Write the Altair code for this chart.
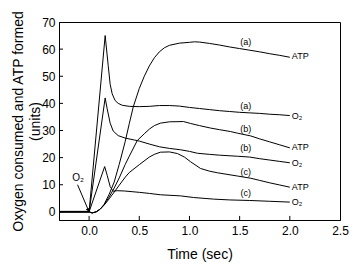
import altair as alt
import pandas as pd

FONT = "Arial, Liberation Sans, sans-serif"

# ---- data ----
base_t = [-0.3, 0.0]
base_v = [0, 0]

o2a_t = [0.0, 0.16, 0.19, 0.21, 0.23, 0.26, 0.29, 0.33, 0.4, 0.5, 0.6, 0.7, 0.8, 0.9, 1.0, 1.1, 1.2, 1.3, 1.4, 1.5, 1.6, 1.7, 1.8, 1.9, 2.0]
o2a_v = [0, 65, 54, 47, 43.5, 41, 40, 39.3, 38.9, 38.8, 38.9, 39.2, 39.2, 39.0, 38.5, 38.1, 37.7, 37.3, 37.0, 36.7, 36.5, 36.3, 36.0, 35.8, 35.5]

o2b_t = [0.0, 0.16, 0.18, 0.21, 0.24, 0.29, 0.36, 0.45, 0.5, 0.6, 0.7, 0.8, 0.91, 1.0, 1.08, 1.2, 1.3, 1.48, 1.6, 1.7, 1.8, 1.9, 2.0]
o2b_v = [0, 42, 38, 32.7, 29.8, 28.1, 27.2, 26.5, 26.1, 25.0, 24.0, 23.4, 22.9, 22.3, 21.6, 21.2, 20.9, 20.5, 20.2, 19.6, 19.1, 18.6, 18.1]

o2c_t = [0.0, 0.155, 0.18, 0.21, 0.24, 0.28, 0.35, 0.5, 0.6, 0.71, 0.91, 1.04, 1.24, 1.4, 1.6, 1.8, 2.0]
o2c_v = [0, 16.7, 13.5, 9.3, 7.6, 7.8, 7.7, 7.2, 6.8, 6.3, 5.9, 5.3, 4.7, 4.4, 4.2, 3.9, 3.6]

atpa_t = [0.0, 0.03, 0.07, 0.11, 0.15, 0.2, 0.25, 0.3, 0.36, 0.4, 0.44, 0.5, 0.55, 0.6, 0.65, 0.7, 0.75, 0.8, 0.9, 1.0, 1.05, 1.1, 1.2, 1.3, 1.4, 1.5, 1.6, 1.7, 1.8, 1.9, 2.0]
atpa_v = [0, -0.4, 0, 1, 2.8, 6.5, 11, 17.5, 26, 32.5, 38.7, 45.5, 50, 53.8, 56.8, 59, 60.5, 61.4, 62.2, 62.5, 62.7, 62.6, 62.1, 61.5, 60.8, 60.2, 59.6, 59.0, 58.3, 57.7, 57.0]

atpb_t = [0.0, 0.03, 0.07, 0.11, 0.15, 0.2, 0.25, 0.3, 0.36, 0.4, 0.48, 0.55, 0.6, 0.65, 0.71, 0.8, 0.94, 1.01, 1.1, 1.21, 1.3, 1.41, 1.48, 1.61, 1.7, 1.8, 1.9, 2.0]
atpb_v = [0, -0.4, 0, 1, 2.6, 5.5, 8.8, 12.5, 17.5, 20.5, 26.3, 28.8, 30.5, 31.8, 32.7, 33.2, 33.3, 32.6, 31.8, 30.9, 30.3, 29.6, 29.0, 28.0, 26.9, 25.8, 24.7, 23.6]

atpc_t = [0.0, 0.03, 0.07, 0.11, 0.15, 0.2, 0.25, 0.3, 0.36, 0.4, 0.5, 0.6, 0.65, 0.71, 0.8, 0.88, 0.95, 1.01, 1.11, 1.2, 1.28, 1.48, 1.61, 1.7, 1.8, 1.9, 2.0]
atpc_v = [0, -0.4, 0, 1, 2.5, 4.8, 7.3, 9.8, 12.8, 14.5, 17.4, 20.2, 21.2, 22.0, 22.1, 21.5, 20.2, 18.5, 16.0, 15.0, 14.4, 13.2, 12.4, 11.6, 10.7, 9.9, 9.1]

end_labels = ["ATP", "O\u2082", "ATP", "O\u2082", "ATP", "O\u2082"]
end_t = [2.02, 2.02, 2.02, 2.02, 2.02, 2.02]
end_v = [57.3, 35.4, 23.8, 18.0, 9.2, 3.6]

paren_labels = ["(a)", "(a)", "(b)", "(b)", "(c)", "(c)"]
paren_t = [1.56, 1.56, 1.56, 1.56, 1.56, 1.56]
paren_v = [62.6, 38.9, 30.6, 23.5, 14.8, 6.8]

note_label = ["O\u2082"]
note_t = [-0.11]
note_v = [12.6]
arrow_t = [-0.115, -0.007]
arrow_v = [10.0, 0.6]

x_ticks = [0.0, 0.5, 1.0, 1.5, 2.0, 2.5]
y_ticks = [0, 10, 20, 30, 40, 50, 60, 70]

# ---- tables ----
series = {
    "O2a": (o2a_t, o2a_v), "O2b": (o2b_t, o2b_v), "O2c": (o2c_t, o2c_v),
    "ATPa": (atpa_t, atpa_v), "ATPb": (atpb_t, atpb_v), "ATPc": (atpc_t, atpc_v),
}
rows = []
for name, (ts, vs) in series.items():
    for t, v in zip(ts, vs):
        rows.append({"series": name, "t": t, "v": v})
df_lines = pd.DataFrame(rows)
df_base = pd.DataFrame({"t": base_t, "v": base_v})
df_end = pd.DataFrame({"t": end_t, "v": end_v, "label": end_labels})
df_paren = pd.DataFrame({"t": paren_t, "v": paren_v, "label": paren_labels})
df_note = pd.DataFrame({"t": note_t, "v": note_v, "label": note_label})
df_arrow = pd.DataFrame({"t": arrow_t, "v": arrow_v})
df_head = pd.DataFrame({"t": arrow_t[-1:], "v": arrow_v[-1:]})
df_xt = pd.DataFrame({"t": x_ticks[:-1]})
df_yt = pd.DataFrame({"v": y_ticks[:-1]})

xscale = alt.Scale(domain=[-0.3, 2.5], nice=False, zero=False)
yscale = alt.Scale(domain=[-3, 70], nice=False, zero=False)

xaxis = alt.Axis(
    title="Time (sec)", values=x_ticks, format=".1f", grid=False, ticks=False,
    domainColor="black", labelColor="black", labelFont=FONT, labelFontSize=12,
    labelBaseline="alphabetic", labelPadding=14.5, labelFlush=False,
    titleFont=FONT, titleFontSize=14, titleFontWeight="normal", titleColor="black",
    titleBaseline="alphabetic", titleY=38.5,
)
yaxis = alt.Axis(
    title=["Oxygen consumed and ATP formed", "\u00a0\u00a0\u00a0\u00a0(units)"],
    values=y_ticks, format="d", grid=False, ticks=False,
    domainColor="black", labelColor="black", labelFont=FONT, labelFontSize=12,
    labelPadding=4, labelFlush=False,
    titleFont=FONT, titleFontSize=14, titleFontWeight="normal", titleColor="black",
    titleAngle=-90, titleBaseline="middle", titleAlign="center",
    titleX=-40.7, titleY=99, titleLineHeight=17,
)

X = alt.X("t:Q", scale=xscale, axis=xaxis)
Y = alt.Y("v:Q", scale=yscale, axis=yaxis)

lines = alt.Chart(df_lines).mark_line(color="black", strokeWidth=1).encode(
    x=X, y=Y, detail="series:N"
)
base = alt.Chart(df_base).mark_line(color="black", strokeWidth=2).encode(x=X, y=Y)

xticks = alt.Chart(df_xt).mark_rule(color="black", strokeWidth=1).encode(
    x=X,
    y=alt.YDatum(-3, scale=yscale, axis=yaxis),
    y2=alt.Y2Datum(-1.5),
)
yticks = alt.Chart(df_yt).mark_rule(color="black", strokeWidth=1).encode(
    y=Y,
    x=alt.XDatum(-0.3, scale=xscale, axis=xaxis),
    x2=alt.X2Datum(-0.26),
)

end_text = alt.Chart(df_end).mark_text(
    align="left", baseline="middle", font=FONT, fontSize=9, color="black"
).encode(x=X, y=Y, text="label:N")
paren_text = alt.Chart(df_paren).mark_text(
    align="center", baseline="middle", font=FONT, fontSize=9, color="black"
).encode(x=X, y=Y, text="label:N")
note_text = alt.Chart(df_note).mark_text(
    align="center", baseline="middle", font=FONT, fontSize=10, color="black"
).encode(x=X, y=Y, text="label:N")
arrow = alt.Chart(df_arrow).mark_line(color="black", strokeWidth=1).encode(x=X, y=Y)
head = alt.Chart(df_head).mark_point(
    shape="triangle-up", filled=True, size=18, angle=157, color="black", opacity=1
).encode(x=X, y=Y)

chart = alt.layer(
    base, lines, xticks, yticks, arrow, head, end_text, paren_text, note_text
).properties(
    width=281, height=198,
    autosize=alt.AutoSizeParams(type="none"),
    padding={"left": 59, "top": 22, "right": 15, "bottom": 44},
    background="white",
).configure_view(stroke="black", strokeWidth=1)

chart.save("out.html", embed_options={"renderer": "svg", "actions": False})
